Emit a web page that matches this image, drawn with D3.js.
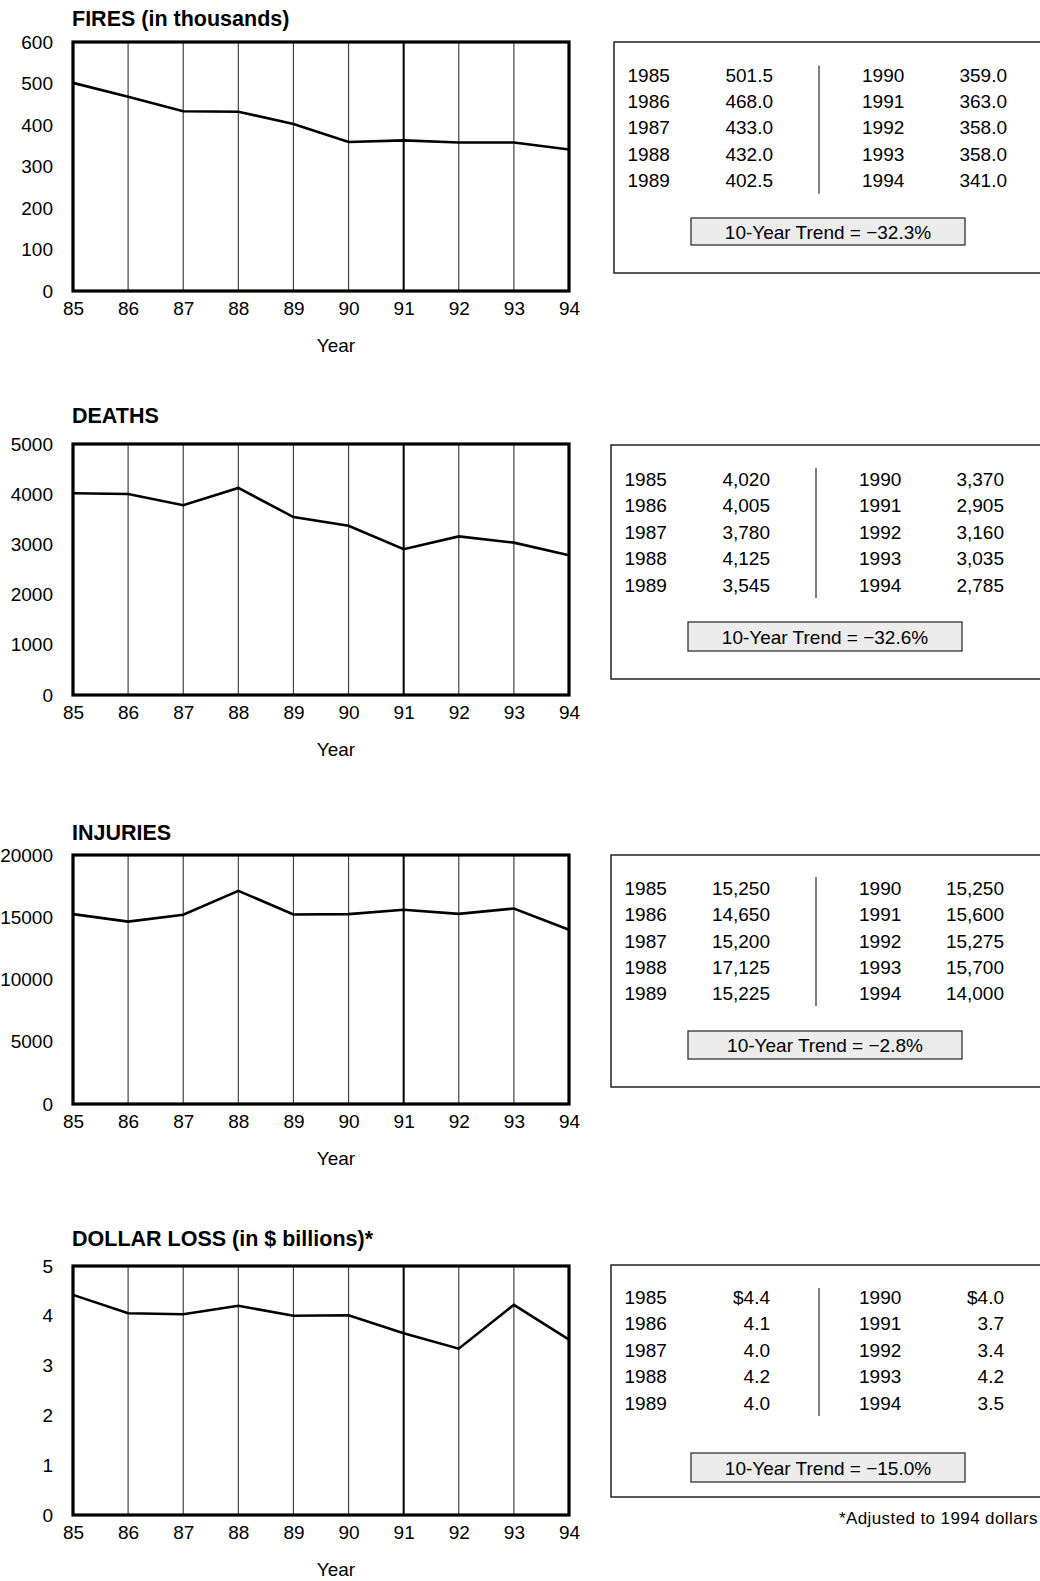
<!DOCTYPE html>
<html><head><meta charset="utf-8">
<script src="https://cdn.jsdelivr.net/npm/d3@7"></script>
<style>
body{margin:0;background:#fff;overflow:hidden;}
svg{display:block;font-family:'Liberation Sans',Arial,sans-serif;}
</style></head><body>
<svg id="c" width="1040" height="1581"></svg>
<script>
// ---- data ----
const years = [85, 86, 87, 88, 89, 90, 91, 92, 93, 94];
const tableYears = ["1985","1986","1987","1988","1989","1990","1991","1992","1993","1994"];

const fires = [501.5, 468.0, 433.0, 432.0, 402.5, 359.0, 363.0, 358.0, 358.0, 341.0];
const firesLabels = ["501.5","468.0","433.0","432.0","402.5","359.0","363.0","358.0","358.0","341.0"];
const firesTicks = [0, 100, 200, 300, 400, 500, 600];

const deaths = [4020, 4005, 3780, 4125, 3545, 3370, 2905, 3160, 3035, 2785];
const deathsLabels = ["4,020","4,005","3,780","4,125","3,545","3,370","2,905","3,160","3,035","2,785"];
const deathsTicks = [0, 1000, 2000, 3000, 4000, 5000];

const injuries = [15250, 14650, 15200, 17125, 15225, 15250, 15600, 15275, 15700, 14000];
const injuriesLabels = ["15,250","14,650","15,200","17,125","15,225","15,250","15,600","15,275","15,700","14,000"];
const injuriesTicks = [0, 5000, 10000, 15000, 20000];

const loss = [4.42, 4.05, 4.03, 4.2, 4.0, 4.01, 3.65, 3.34, 4.22, 3.52];
const lossLabels = ["$4.4","4.1","4.0","4.2","4.0","$4.0","3.7","3.4","4.2","3.5"];
const lossTicks = [0, 1, 2, 3, 4, 5];

const titles = ["FIRES (in thousands)", "DEATHS", "INJURIES", "DOLLAR LOSS (in $ billions)*"];
const trends = ["10-Year Trend = \u221232.3%", "10-Year Trend = \u221232.6%", "10-Year Trend = \u22122.8%", "10-Year Trend = \u221215.0%"];
const footnote = "*Adjusted to 1994 dollars";

// ---- layout ----
const panels = [
  {values: fires, labels: firesLabels, ticks: firesTicks, T: 42, B: 291, titleY: 26,
   box: {L: 614, top: 42, bottom: 273}, row0: 74.6, div: {x: 819, y0: 65.6, y1: 193.7}, trend: {x0: 691, x1: 965, y0: 218, y1: 245}},
  {values: deaths, labels: deathsLabels, ticks: deathsTicks, T: 444, B: 695, titleY: 423,
   box: {L: 611, top: 445, bottom: 679}, row0: 479, div: {x: 816, y0: 468, y1: 598}, trend: {x0: 688, x1: 962, y0: 622, y1: 651}},
  {values: injuries, labels: injuriesLabels, ticks: injuriesTicks, T: 855, B: 1104, titleY: 840,
   box: {L: 611, top: 855, bottom: 1087}, row0: 887.7, div: {x: 816, y0: 877, y1: 1006}, trend: {x0: 688, x1: 962, y0: 1031, y1: 1059}},
  {values: loss, labels: lossLabels, ticks: lossTicks, T: 1266, B: 1515, titleY: 1246,
   box: {L: 611, top: 1265, bottom: 1497}, row0: 1297, div: {x: 819, y0: 1288, y1: 1416}, trend: {x0: 691, x1: 965, y0: 1453, y1: 1482}}
];

const svg = d3.select("#c");
const x = d3.scaleLinear().domain([d3.min(years), d3.max(years)]).range([73, 569]);
const FS = 19;

panels.forEach((p, k) => {
  const g = svg.append("g");
  const y = d3.scaleLinear().domain([0, d3.max(p.ticks)]).range([p.B, p.T]);

  // title
  g.append("text").attr("x", 72).attr("y", p.titleY)
    .attr("font-size", 21.5).attr("font-weight", "bold").text(titles[k]);

  // gridlines
  g.selectAll("line.grid").data(years.slice(1, -1)).enter().append("line")
    .attr("x1", d => x(d)).attr("x2", d => x(d)).attr("y1", p.T).attr("y2", p.B)
    .attr("stroke", d => d === 91 ? "#000" : "#444").attr("stroke-width", d => d === 91 ? 2 : 1.2);

  // data line
  const line = d3.line().x((d, i) => x(years[i])).y(d => y(d));
  g.append("path").datum(p.values).attr("d", line)
    .attr("fill", "none").attr("stroke", "#000").attr("stroke-width", 2.6).attr("stroke-linejoin", "miter");

  // frame
  g.append("rect").attr("x", x(85)).attr("y", p.T).attr("width", x(94) - x(85)).attr("height", p.B - p.T)
    .attr("fill", "none").attr("stroke", "#000").attr("stroke-width", 3.2);

  // axes
  const ay = g.append("g").attr("transform", `translate(${x(85)},0)`)
    .call(d3.axisLeft(y).tickValues(p.ticks).tickSize(0).tickPadding(20).tickFormat(d3.format("d")));
  ay.select(".domain").remove();
  ay.selectAll("text").attr("font-size", FS).attr("font-family", "'Liberation Sans',Arial,sans-serif").attr("fill", "#000");

  const ax = g.append("g").attr("transform", `translate(0,${p.B})`)
    .call(d3.axisBottom(x).tickValues(years).tickSize(0).tickPadding(11).tickFormat(d3.format("d")));
  ax.select(".domain").remove();
  ax.selectAll("text").attr("font-size", FS).attr("font-family", "'Liberation Sans',Arial,sans-serif").attr("fill", "#000");

  g.append("text").attr("x", 336).attr("y", p.B + 61).attr("text-anchor", "middle")
    .attr("font-size", FS).text("Year");

  // table box
  const b = p.box;
  g.append("rect").attr("x", b.L).attr("y", b.top).attr("width", 1040 - b.L + 5).attr("height", b.bottom - b.top)
    .attr("fill", "none").attr("stroke", "#222").attr("stroke-width", 1.5);
  g.append("line").attr("x1", p.div.x).attr("x2", p.div.x).attr("y1", p.div.y0).attr("y2", p.div.y1)
    .attr("stroke", "#555").attr("stroke-width", 1.5);

  const rows = d3.range(10);
  g.selectAll("text.yr").data(rows).enter().append("text")
    .attr("x", i => i < 5 ? b.L + 13.5 : b.L + 248)
    .attr("y", i => p.row0 + (i % 5) * 26.4 + 7)
    .attr("font-size", FS).text(i => tableYears[i]);
  g.selectAll("text.val").data(rows).enter().append("text")
    .attr("x", i => i < 5 ? b.L + 159 : b.L + 393)
    .attr("y", i => p.row0 + (i % 5) * 26.4 + 7)
    .attr("text-anchor", "end")
    .attr("font-size", FS).text(i => p.labels[i]);

  // trend box
  const t = p.trend;
  g.append("rect").attr("x", t.x0).attr("y", t.y0).attr("width", t.x1 - t.x0).attr("height", t.y1 - t.y0)
    .attr("fill", "#ececec").attr("stroke", "#333").attr("stroke-width", 1.3);
  g.append("text").attr("x", (t.x0 + t.x1) / 2).attr("y", (t.y0 + t.y1) / 2 + 7)
    .attr("text-anchor", "middle").attr("font-size", FS).text(trends[k]);
});

svg.append("text").attr("x", 1038).attr("y", 1524).attr("font-size", 17)
  .attr("text-anchor", "end").attr("letter-spacing", 0.4).text(footnote);
</script>
</body></html>
